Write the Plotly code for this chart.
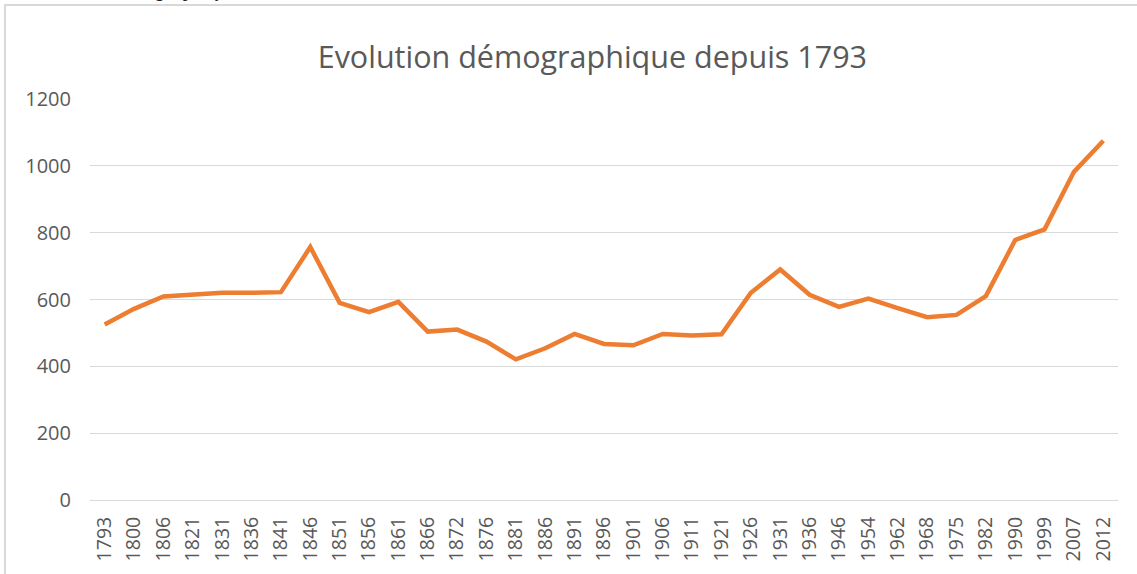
import plotly.graph_objects as go

years = [
    "1793", "1800", "1806", "1821", "1831", "1836", "1841", "1846", "1851",
    "1856", "1861", "1866", "1872", "1876", "1881", "1886", "1891", "1896",
    "1901", "1906", "1911", "1921", "1926", "1931", "1936", "1946", "1954",
    "1962", "1968", "1975", "1982", "1990", "1999", "2007", "2012",
]
population = [
    525, 572, 609, 613, 620, 620, 622, 757, 590,
    562, 593, 504, 510, 474, 421, 454, 497, 467,
    463, 497, 492, 496, 620, 690, 614, 578, 603,
    574, 547, 554, 610, 778, 810, 982, 1075,
]
y_ticks = [0, 200, 400, 600, 800, 1000, 1200]

title = "Evolution démographique depuis 1793"
text_grey = "#595959"
grid_grey = "#D9D9D9"

fig = go.Figure()
fig.add_trace(
    go.Scatter(
        x=years,
        y=population,
        mode="lines",
        line=dict(color="#ED7D31", width=4.5),
        showlegend=False,
    )
)

fig.update_layout(
    width=1137,
    height=574,
    autosize=False,
    margin=dict(l=90, r=19, t=99, b=74),
    paper_bgcolor="white",
    plot_bgcolor="white",
    font=dict(family="Open Sans", color=text_grey),
    title=dict(
        text=title,
        x=0.521,
        xanchor="center",
        y=0.9,
        yanchor="middle",
        font=dict(family="Open Sans", size=30.5, color=text_grey),
    ),
)

fig.update_xaxes(
    type="category",
    range=[-0.5, len(years) - 0.5],
    tickangle=-90,
    tickfont=dict(size=19.5, color=text_grey),
    showgrid=False,
    showline=True,
    linecolor=grid_grey,
    linewidth=1,
    ticks="",
    ticklabelstandoff=8,
)
fig.update_yaxes(
    range=[0, 1200],
    tickvals=y_ticks,
    tickfont=dict(size=20, color=text_grey),
    showgrid=True,
    gridcolor=grid_grey,
    gridwidth=1,
    zeroline=False,
    ticks="",
    ticklabelstandoff=18,
)

# frame of the chart object (left and top edges visible)
fig.add_shape(
    type="rect",
    xref="paper",
    yref="paper",
    x0=-0.0827,
    x1=1.2,
    y0=-0.5,
    y1=1.2344,
    line=dict(color=grid_grey, width=2),
    fillcolor="rgba(0,0,0,0)",
    layer="below",
)

# cut-off caption from the page above the chart
fig.add_annotation(
    text="<i>démographique</i>",
    xref="paper",
    yref="paper",
    x=0.02,
    xanchor="left",
    y=1.2395,
    yanchor="bottom",
    showarrow=False,
    font=dict(family="Liberation Serif", size=20, color="#222222"),
)

fig.write_html(
    "out.html",
    config={"displayModeBar": False},
    post_script="document.body.style.margin='0';",
)
